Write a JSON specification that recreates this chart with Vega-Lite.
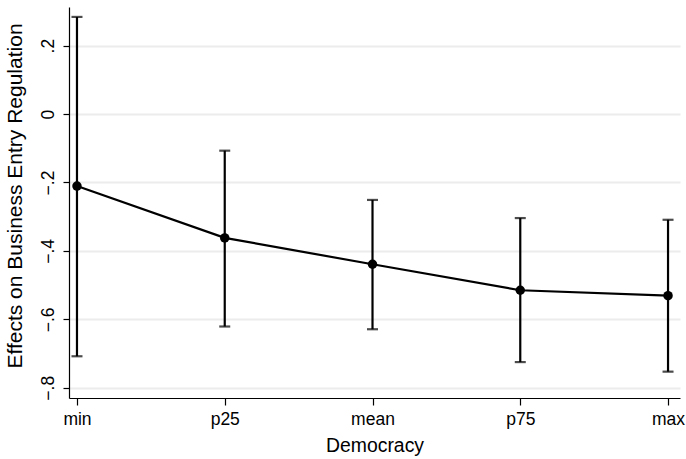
{
  "$schema": "https://vega.github.io/schema/vega-lite/v6.json",
  "autosize": {"type": "none"},
  "padding": {"left": 69, "top": 7, "right": 6, "bottom": 61},
  "width": 611,
  "height": 391,
  "background": "white",
  "config": {
    "view": {"stroke": null},
    "font": "Liberation Sans",
    "axis": {"labelFont": "Liberation Sans", "titleFont": "Liberation Sans", "labelColor": "#000000", "titleColor": "#000000", "titleFontWeight": "normal"}
  },
  "data": {
    "values": [
      {"idx": 1, "label": "min", "est": -0.2105, "lo": -0.708, "hi": 0.284},
      {"idx": 2, "label": "p25", "est": -0.362, "lo": -0.621, "hi": -0.107},
      {"idx": 3, "label": "mean", "est": -0.439, "lo": -0.629, "hi": -0.251},
      {"idx": 4, "label": "p75", "est": -0.515, "lo": -0.725, "hi": -0.304},
      {"idx": 5, "label": "max", "est": -0.531, "lo": -0.753, "hi": -0.309}
    ]
  },
  "encoding": {
    "x": {
      "field": "idx", "type": "quantitative",
      "scale": {"domain": [0.946, 5.081], "nice": false, "zero": false},
      "axis": {
        "title": "Democracy", "values": [1, 2, 3, 4, 5],
        "labelExpr": "['','min','p25','mean','p75','max'][datum.value]",
        "grid": false, "domainColor": "#000000", "domainWidth": 1.2,
        "tickColor": "#000000", "tickSize": 7, "tickWidth": 1.2,
        "labelFontSize": 17.5, "labelPadding": 5, "labelFlush": false,
        "titleFontSize": 19.4, "titlePadding": 9
      }
    }
  },
  "layer": [
    {
      "mark": {"type": "rule", "color": "#000000", "strokeWidth": 2.2},
      "encoding": {
        "y": {
          "field": "lo", "type": "quantitative",
          "scale": {"domain": [-0.83, 0.313], "nice": false, "zero": false},
          "axis": {
            "title": "Effects on Business Entry Regulation",
            "values": [-0.8, -0.6, -0.4, -0.2, 0, 0.2],
            "labelExpr": "replace(format(datum.value, '.1~f'), '0.', '.')",
            "labelAngle": -90, "labelAlign": "center", "labelBaseline": "alphabetic",
            "labelFontSize": 17.5, "labelPadding": 10,
            "grid": true, "gridColor": "#ececec", "gridWidth": 2,
            "domainColor": "#000000", "domainWidth": 1.2,
            "tickColor": "#000000", "tickSize": 6, "tickWidth": 1.2,
            "titleFontSize": 21, "titleX": -44, "titleY": 188.5, "titleAngle": -90, "titleBaseline": "bottom"
          }
        },
        "y2": {"field": "hi"}
      }
    },
    {
      "mark": {"type": "tick", "orient": "horizontal", "color": "#000000", "thickness": 2.2, "size": 11},
      "encoding": {"y": {"field": "lo", "type": "quantitative"}}
    },
    {
      "mark": {"type": "tick", "orient": "horizontal", "color": "#000000", "thickness": 2.2, "size": 11},
      "encoding": {"y": {"field": "hi", "type": "quantitative"}}
    },
    {
      "mark": {"type": "line", "color": "#000000", "strokeWidth": 2.2},
      "encoding": {"y": {"field": "est", "type": "quantitative"}}
    },
    {
      "mark": {"type": "point", "filled": true, "color": "#000000", "opacity": 1, "size": 90},
      "encoding": {"y": {"field": "est", "type": "quantitative"}}
    }
  ]
}
